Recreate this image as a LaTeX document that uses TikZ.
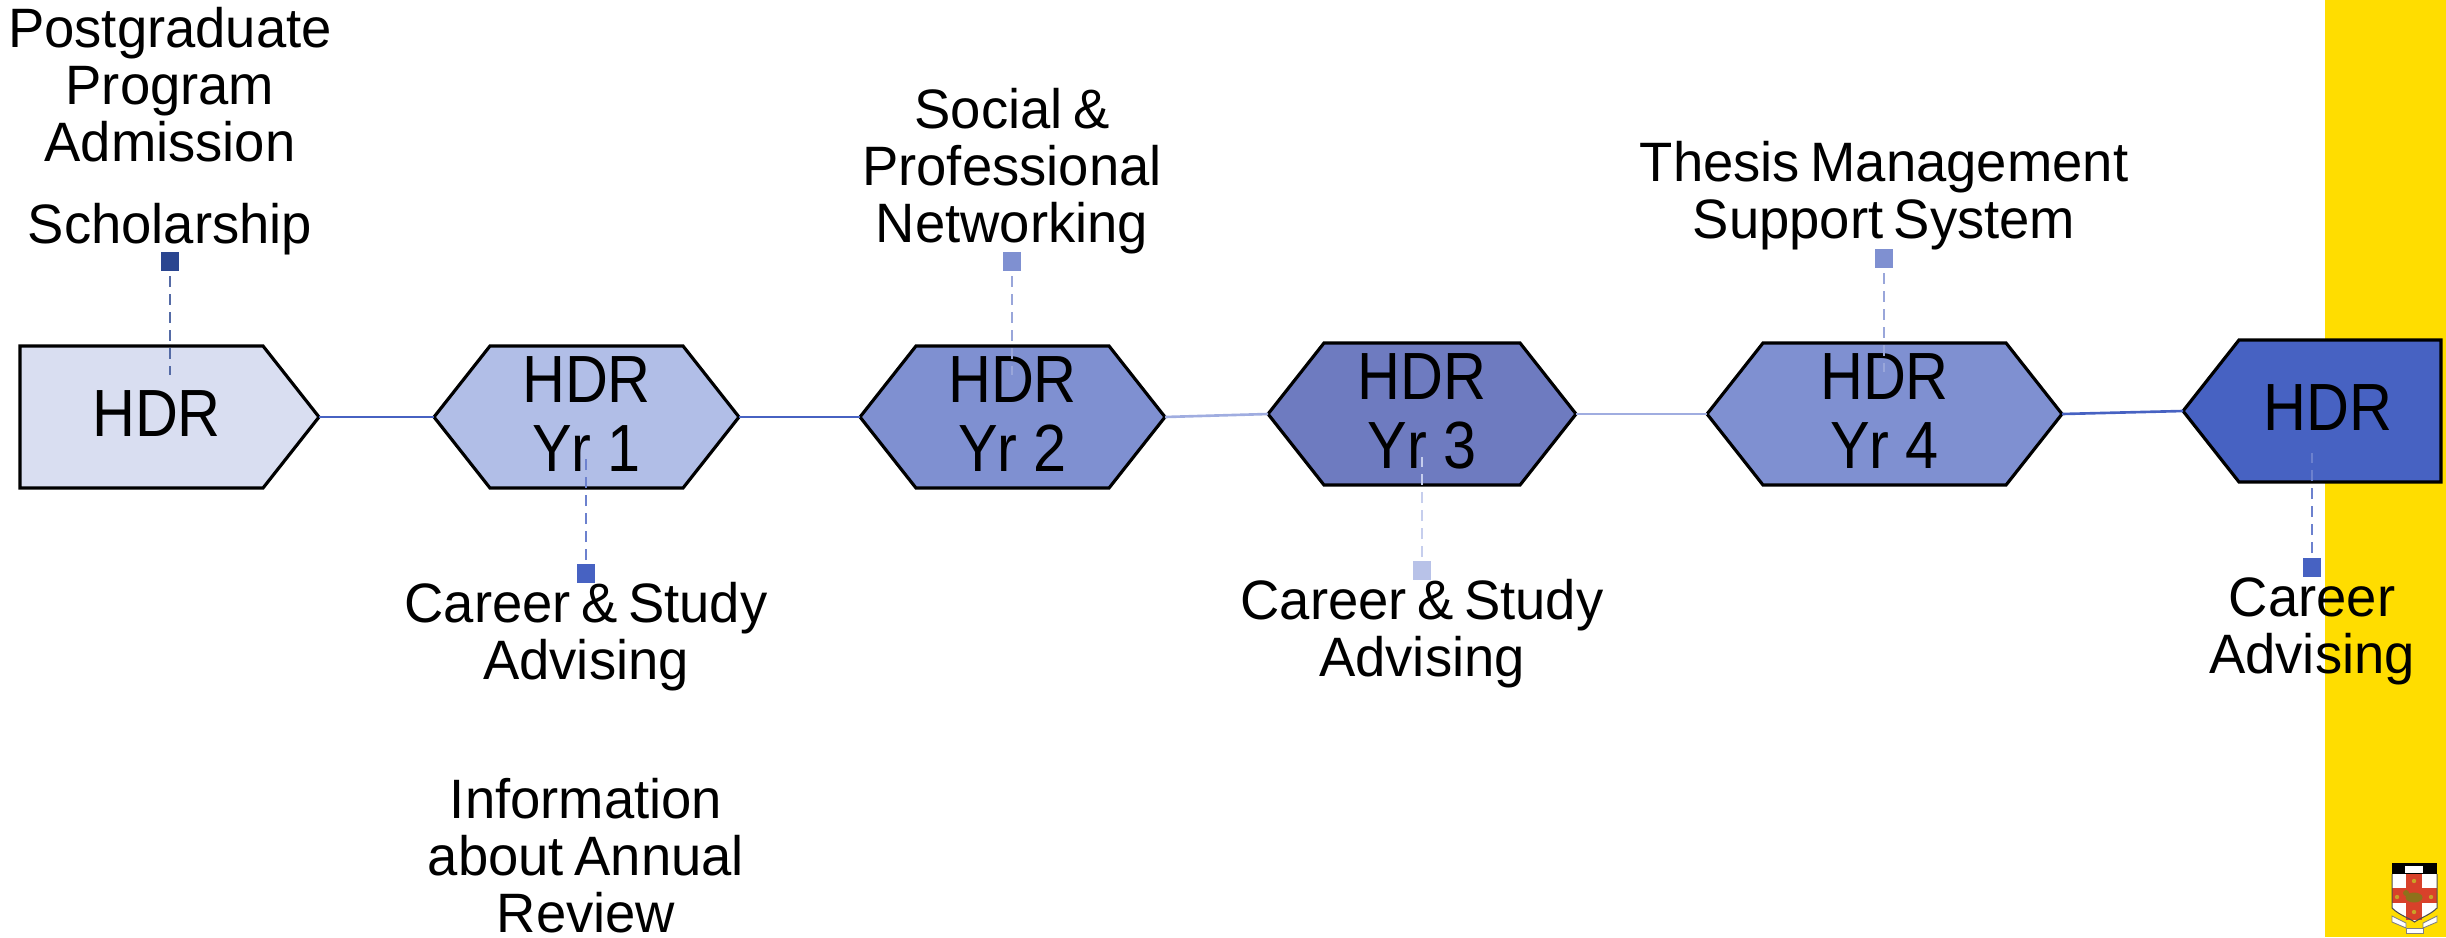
\documentclass[tikz,border=0pt]{standalone}
\usepackage{fontspec}
\setmainfont[FakeStretch=0.98,WordSpace=0.7]{Liberation Sans}
\newfontfamily\hexfont[FakeStretch=0.89]{Liberation Sans}
\usetikzlibrary{shapes.symbols}
\definecolor{hdrzero}{HTML}{D9DEF1}
\definecolor{hdrone}{HTML}{B1BEE7}
\definecolor{hdrtwo}{HTML}{7F90D1}
\definecolor{hdrthree}{HTML}{6E7BC0}
\definecolor{hdrend}{HTML}{4762C2}
\definecolor{markdark}{HTML}{2B4690}
\definecolor{marklight}{HTML}{B8C2E8}
\definecolor{linklight}{HTML}{A0ADE0}
\definecolor{uniyellow}{HTML}{FFDD00}
\definecolor{crestred}{HTML}{D8412A}
\definecolor{crestgold}{HTML}{C9A227}
\tikzset{
  hexbox/.style={signal, signal pointer angle=103.5, draw=black, line width=0.9pt, minimum height=1.42cm,
    inner sep=0pt, outer sep=0pt, anchor=west, align=center, text depth=0.06cm, font=\hexfont\fontsize{19}{19.6}\selectfont},
  caption/.style={align=center, inner sep=0pt, font=\fontsize{15.8}{16.2}\selectfont},
  marker/.style={rectangle, inner sep=0pt, minimum width=0.18cm, minimum height=0.19cm},
  dashline/.style={line width=0.65pt, dash pattern=on 0.11cm off 0.07cm},
  link/.style={draw=hdrend, line width=0.75pt}
}
\begin{document}
\begin{tikzpicture}
        \useasboundingbox (0,0) rectangle (24.46,9.37);
        % Yellow band
        \fill[uniyellow] (23.25,0) rectangle (24.46,9.37);

        % Stages
        \node[hexbox, signal to=east, minimum width=2.99cm, fill=hdrzero] (hdrstart) at (0.20,5.20) {\hspace*{0.3cm}HDR};
        \node[hexbox, signal to=east and west, minimum width=3.05cm, fill=hdrone] (yrone) at (4.34,5.20) {HDR\\Yr 1};
        \node[hexbox, signal to=east and west, minimum width=3.05cm, fill=hdrtwo] (yrtwo) at (8.60,5.20) {HDR\\Yr 2};
        \node[hexbox, signal to=east and west, minimum width=3.08cm, fill=hdrthree] (yrthree) at (12.68,5.23) {HDR\\Yr 3};
        \node[hexbox, signal to=east and west, minimum width=3.55cm, fill=hdrtwo] (yrfour) at (17.07,5.23) {HDR\\Yr 4};
        \node[hexbox, signal to=west, minimum width=2.58cm, fill=hdrend] (hdrend) at (21.83,5.26) {HDR\hspace*{0.24cm}};

        % Links
        \draw[link] (hdrstart.east) -- (yrone.west);
        \draw[link] (yrone.east) -- (yrtwo.west);
        \draw[link, draw=linklight] (yrtwo.east) -- (yrthree.west);
        \draw[link, draw=linklight] (yrthree.east) -- (yrfour.west);
        \draw[link] (yrfour.east) -- (hdrend.west);

        % Markers and dashes
        \foreach \name/\x/\y/\col/\yfrom/\yto in {a/1.70/6.76/markdark/6.61/5.62, b/5.86/3.64/hdrend/3.77/4.78,
            c/10.12/6.755/hdrtwo/6.61/5.62, d/14.22/3.67/marklight/3.80/4.80,
            e/18.84/6.79/hdrtwo/6.64/5.65, f/23.12/3.70/hdrend/3.84/4.84}
        {
          \node[marker, fill=\col] (mark\name) at (\x,\y) {};
          \coordinate (from\name) at (\x,\yfrom);
          \coordinate (to\name) at (\x,\yto);
          \draw[dashline, draw=\col!80!white] (from\name) -- (to\name);
        }

        % Captions
        \node[caption] (admission) at (1.70,8.52) {Postgraduate\\Program\\Admission};
        \node[caption] (scholarship) at (1.70,7.08) {Scholarship};
        \node[caption] (advisingone) at (5.86,3.00) {Career \& Study\\Advising};
        \node[caption] (review) at (5.86,0.81) {Information\\about Annual\\Review};
        \node[caption] (networking) at (10.12,7.66) {Social \&\\Professional\\Networking};
        \node[caption] (advisingtwo) at (14.22,3.03) {Career \& Study\\Advising};
        \node[caption] (thesis) at (18.84,7.41) {Thesis Management\\Support System};
        \node[caption] (career) at (23.12,3.06) {Career\\Advising};

        % Crest
        \fill[white] (23.92,0.63) -- (24.37,0.63) -- (24.37,0.29) .. controls (24.30,0.22) and (24.20,0.19) .. (24.145,0.15) .. controls (24.09,0.19) and (23.99,0.22) .. (23.92,0.29) -- cycle;
        \fill[crestred] (24.06,0.63) rectangle (24.22,0.17);
        \fill[crestred] (23.92,0.34) rectangle (24.37,0.49);
        \fill[black] (23.92,0.63) rectangle (24.37,0.74);
        \fill[white] (24.05,0.64) rectangle (24.23,0.71);
        \foreach \x/\y in {24.14/0.56, 24.14/0.25, 23.97/0.40, 24.31/0.40}
        {
          \fill[crestgold] (\x,\y) circle (0.022);
        }
        \fill[crestgold!70!black] (24.14,0.395) ellipse (0.085 and 0.05);
        \fill[crestgold!70!black] (24.06,0.44) circle (0.03);
        \draw[black!70, line width=0.3pt] (23.92,0.63) -- (23.92,0.29) .. controls (23.99,0.22) and (24.09,0.19) .. (24.145,0.15) .. controls (24.20,0.19) and (24.30,0.22) .. (24.37,0.29) -- (24.37,0.63);
        \filldraw[fill=white, draw=black!50, line width=0.25pt] (23.92,0.21) -- (24.06,0.14) -- (24.06,0.09) -- (23.92,0.15) -- cycle;
        \filldraw[fill=white, draw=black!50, line width=0.25pt] (24.37,0.21) -- (24.23,0.14) -- (24.23,0.09) -- (24.37,0.15) -- cycle;
        \filldraw[fill=white, draw=black!50, line width=0.25pt] (24.06,0.09) rectangle (24.23,0.04);
\end{tikzpicture}
\end{document}
